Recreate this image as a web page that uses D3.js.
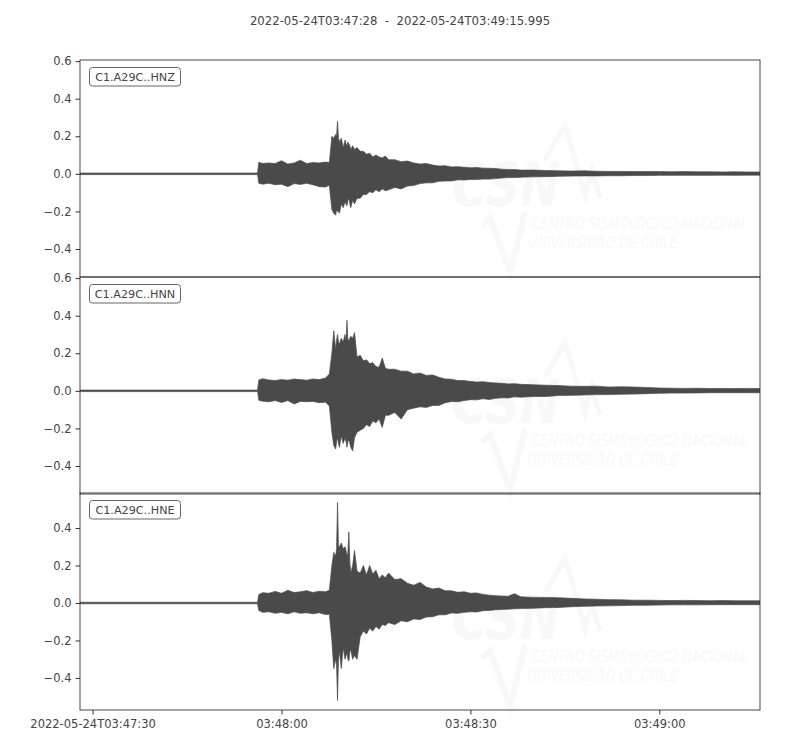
<!DOCTYPE html>
<html>
<head>
<meta charset="utf-8">
<script src="https://cdn.jsdelivr.net/npm/d3@7"></script>
<style>
  body { margin: 0; background: #fff; }
  svg { font-family: "DejaVu Sans", sans-serif; }
</style>
</head>
<body>
<svg id="chart"></svg>
<script>
// Tiempos de muestreo (s desde 03:47:28) y envolventes
const times = [0, 28.2, 28.4, 29, 30, 31, 32, 33, 34, 35, 36, 37, 38, 39, 39.6,
  40.0, 40.3, 40.6, 40.75, 40.9, 41.05, 41.2, 41.5, 41.8, 42.1, 42.25, 42.4, 42.55, 42.7, 42.85, 43.0, 43.3, 43.6,
  44.0, 44.5, 45.0, 45.5, 46.0, 46.5, 47.0, 47.5, 48.0, 48.5, 49.0,
  50, 51, 52, 53, 54, 55, 56, 57, 58, 59, 60, 61, 62, 63, 64, 65, 66, 67, 68, 69, 70,
  72, 74, 76, 78, 80, 82, 84, 86, 88, 90, 92, 94, 96, 98, 100, 102, 104, 106, 108];

const hnzHigh = [0.004, 0.004, 0.062, 0.055, 0.058, 0.055, 0.07, 0.052, 0.058, 0.072, 0.055, 0.06, 0.058, 0.063, 0.06,
  0.2, 0.19, 0.21, 0.2, 0.28, 0.19, 0.17, 0.19, 0.14, 0.18, 0.16, 0.15, 0.17, 0.16, 0.15, 0.13, 0.15, 0.13,
  0.14, 0.12, 0.12, 0.105, 0.11, 0.09, 0.1, 0.09, 0.085, 0.095, 0.075,
  0.075, 0.065, 0.068, 0.058, 0.052, 0.055, 0.047, 0.042, 0.043, 0.037, 0.038, 0.035, 0.032, 0.034, 0.03, 0.03, 0.028, 0.025, 0.023, 0.023, 0.02,
  0.02, 0.018, 0.016, 0.015, 0.016, 0.014, 0.013, 0.013, 0.012, 0.012, 0.012, 0.011, 0.012, 0.011, 0.011, 0.01, 0.011, 0.01, 0.01];
const hnzLow = [-0.004, -0.004, -0.05, -0.055, -0.05, -0.058, -0.055, -0.068, -0.052, -0.056, -0.05, -0.058, -0.068, -0.07, -0.06,
  -0.19, -0.21, -0.22, -0.19, -0.2, -0.2, -0.21, -0.16, -0.18, -0.15, -0.16, -0.17, -0.14, -0.13, -0.16, -0.18, -0.14, -0.16,
  -0.13, -0.13, -0.11, -0.11, -0.095, -0.1, -0.085, -0.095, -0.08, -0.09, -0.085,
  -0.072, -0.08, -0.065, -0.062, -0.052, -0.048, -0.048, -0.04, -0.038, -0.038, -0.032, -0.033, -0.03, -0.03, -0.028, -0.028, -0.025, -0.022, -0.02, -0.02, -0.018,
  -0.016, -0.015, -0.013, -0.012, -0.011, -0.011, -0.01, -0.01, -0.009, -0.009, -0.008, -0.008, -0.008, -0.008, -0.008, -0.007, -0.008, -0.007, -0.007];

const hnnHigh = [0.004, 0.004, 0.058, 0.065, 0.058, 0.055, 0.06, 0.057, 0.063, 0.06, 0.057, 0.063, 0.06, 0.068, 0.09,
  0.2, 0.32, 0.22, 0.27, 0.3, 0.26, 0.25, 0.28, 0.26, 0.3, 0.27, 0.375, 0.27, 0.27, 0.28, 0.29, 0.28, 0.31,
  0.18, 0.19, 0.16, 0.165, 0.145, 0.15, 0.13, 0.125, 0.175, 0.12, 0.115,
  0.115, 0.105, 0.105, 0.09, 0.095, 0.082, 0.085, 0.072, 0.063, 0.062, 0.055, 0.055, 0.05, 0.047, 0.048, 0.045, 0.042, 0.04, 0.037, 0.038, 0.035,
  0.032, 0.03, 0.028, 0.025, 0.024, 0.025, 0.02, 0.022, 0.02, 0.018, 0.015, 0.014, 0.013, 0.014, 0.012, 0.013, 0.012, 0.013, 0.012];
const hnnLow = [-0.004, -0.004, -0.05, -0.055, -0.058, -0.052, -0.062, -0.052, -0.07, -0.056, -0.058, -0.056, -0.063, -0.06, -0.08,
  -0.22, -0.29, -0.31, -0.27, -0.25, -0.28, -0.3, -0.24, -0.28, -0.25, -0.27, -0.3, -0.27, -0.26, -0.28, -0.3, -0.32, -0.25,
  -0.22, -0.21, -0.2, -0.18, -0.19, -0.16, -0.17, -0.15, -0.195, -0.13, -0.13,
  -0.115, -0.15, -0.1, -0.092, -0.085, -0.088, -0.078, -0.078, -0.063, -0.057, -0.058, -0.052, -0.047, -0.048, -0.042, -0.046, -0.04, -0.037, -0.038, -0.032, -0.034,
  -0.03, -0.03, -0.025, -0.024, -0.022, -0.02, -0.02, -0.018, -0.017, -0.015, -0.013, -0.012, -0.012, -0.011, -0.01, -0.01, -0.01, -0.01, -0.01];

const hneHigh = [0.004, 0.004, 0.045, 0.055, 0.052, 0.062, 0.052, 0.068, 0.056, 0.06, 0.066, 0.056, 0.063, 0.06, 0.068,
  0.2, 0.27, 0.25, 0.29, 0.537, 0.3, 0.3, 0.32, 0.29, 0.3, 0.28, 0.25, 0.27, 0.38, 0.22, 0.16, 0.2, 0.28,
  0.17, 0.16, 0.2, 0.15, 0.2, 0.155, 0.175, 0.13, 0.15, 0.135, 0.16,
  0.125, 0.13, 0.105, 0.095, 0.11, 0.085, 0.075, 0.08, 0.065, 0.065, 0.057, 0.06, 0.052, 0.054, 0.046, 0.042, 0.039, 0.037, 0.036, 0.05, 0.033,
  0.03, 0.03, 0.028, 0.025, 0.022, 0.02, 0.018, 0.017, 0.015, 0.015, 0.014, 0.013, 0.014, 0.013, 0.012, 0.013, 0.012, 0.012, 0.012];
const hneLow = [-0.004, -0.004, -0.04, -0.05, -0.047, -0.055, -0.05, -0.058, -0.047, -0.055, -0.052, -0.058, -0.052, -0.062, -0.06,
  -0.2, -0.35, -0.3, -0.33, -0.52, -0.3, -0.26, -0.35, -0.24, -0.3, -0.28, -0.27, -0.3, -0.31, -0.26, -0.25, -0.3, -0.28,
  -0.3, -0.18, -0.15, -0.165, -0.135, -0.15, -0.125, -0.14, -0.115, -0.12, -0.105,
  -0.115, -0.095, -0.1, -0.085, -0.088, -0.075, -0.073, -0.063, -0.063, -0.053, -0.055, -0.05, -0.047, -0.048, -0.041, -0.04, -0.036, -0.035, -0.033, -0.031, -0.03,
  -0.028, -0.025, -0.024, -0.02, -0.018, -0.016, -0.015, -0.014, -0.012, -0.012, -0.011, -0.01, -0.01, -0.01, -0.009, -0.009, -0.009, -0.009, -0.009];

// Canales
const channels = ['C1.A29C..HNZ', 'C1.A29C..HNN', 'C1.A29C..HNE'];
const yDomains = [[-0.549, 0.606], [-0.549, 0.606], [-0.571, 0.587]];
const yTicks = [[-0.4, -0.2, 0.0, 0.2, 0.4, 0.6], [-0.4, -0.2, 0.0, 0.2, 0.4, 0.6], [-0.4, -0.2, 0.0, 0.2, 0.4]];

// Eje de tiempo
const titleText = '2022-05-24T03:47:28  -  2022-05-24T03:49:15.995';
const timeDomain = [0, 107.995];
const xTickValues = [2, 32, 62, 92];
const xTickLabels = ['2022-05-24T03:47:30', '03:48:00', '03:48:30', '03:49:00'];

const highs = [hnzHigh, hnnHigh, hneHigh];
const lows = [hnzLow, hnnLow, hneLow];

// Dimensiones
const width = 800;
const height = 750;
const left = 80, right = 760;
const panelTops = [60, 277, 493];
const panelHeight = 217;
const textColor = '#444';
const waveColor = '#4a4a4a';
const fontSize = '11.5px';

const svg = d3.select('#chart')
  .attr('width', width)
  .attr('height', height);

const x = d3.scaleLinear().domain(timeDomain).range([left, right]);

// Titulo
svg.append('text')
  .attr('x', width / 2)
  .attr('y', 25)
  .attr('text-anchor', 'middle')
  .attr('fill', textColor)
  .style('font-size', '11.7px')
  .style('white-space', 'pre')
  .text(titleText);

const fmtY = d => d3.format('.1f')(d).replace('-', '\u2212');

channels.forEach((name, i) => {
  const top = panelTops[i];
  const y = d3.scaleLinear().domain(yDomains[i]).range([top + panelHeight, top]);
  const g = svg.append('g');

  // Marca de agua CSN
  const wm = g.append('g').attr('fill', '#000').attr('opacity', 0.025);
  wm.append('text')
    .attr('x', 452).attr('y', top + 146)
    .style('font-size', '60px').style('font-weight', 'bold').style('font-style', 'italic')
    .attr('textLength', 108).attr('lengthAdjust', 'spacingAndGlyphs')
    .text('CSN');
  wm.append('text')
    .attr('x', 532).attr('y', top + 169)
    .style('font-size', '15px').style('font-style', 'italic')
    .attr('textLength', 216).attr('lengthAdjust', 'spacingAndGlyphs')
    .text('CENTRO SISMOLÓGICO NACIONAL');
  wm.append('text')
    .attr('x', 528).attr('y', top + 188)
    .style('font-size', '15px').style('font-style', 'italic')
    .attr('textLength', 150).attr('lengthAdjust', 'spacingAndGlyphs')
    .text('UNIVERSIDAD DE CHILE');
  wm.append('polyline')
    .attr('points', [[545, top + 100], [565, top + 65], [585, top + 135], [592, top + 110], [600, top + 138]].map(p => p.join(',')).join(' '))
    .attr('fill', 'none').attr('stroke', '#000').attr('stroke-width', 5);
  wm.append('polyline')
    .attr('points', [[482, top + 165], [490, top + 158], [510, top + 213], [525, top + 152]].map(p => p.join(',')).join(' '))
    .attr('fill', 'none').attr('stroke', '#000').attr('stroke-width', 6);

  // Clip del panel
  svg.append('clipPath').attr('id', 'clip' + i)
    .append('rect').attr('x', left).attr('y', top).attr('width', right - left).attr('height', panelHeight);

  // Traza (envolvente)
  const pts = times.map((t, k) => ({ t: t, hi: highs[i][k], lo: lows[i][k] }));
  const area = d3.area()
    .x(d => x(d.t))
    .y0(d => y(d.lo))
    .y1(d => y(d.hi));
  g.append('path')
    .datum(pts)
    .attr('clip-path', 'url(#clip' + i + ')')
    .attr('d', area)
    .attr('fill', waveColor)
    .attr('stroke', waveColor)
    .attr('stroke-width', 0.7);

  // Borde
  g.append('rect')
    .attr('x', left).attr('y', top)
    .attr('width', right - left).attr('height', panelHeight)
    .attr('fill', 'none').attr('stroke', '#333').attr('stroke-width', 0.9);

  // Eje Y
  const yAxis = g.append('g')
    .attr('transform', `translate(${left},0)`)
    .call(d3.axisLeft(y).tickValues(yTicks[i]).tickSize(4.5).tickPadding(4).tickFormat(fmtY));
  yAxis.select('.domain').remove();
  yAxis.selectAll('line').attr('stroke', '#333');
  yAxis.selectAll('text').attr('fill', textColor).style('font-size', fontSize)
    .style('font-family', '"DejaVu Sans", sans-serif');

  // Etiqueta del canal
  const lab = g.append('g').attr('transform', `translate(${left + 9.5},${top + 7.5})`);
  lab.append('rect')
    .attr('width', 91).attr('height', 18.5).attr('rx', 3)
    .attr('fill', '#fff').attr('stroke', '#666').attr('stroke-width', 1);
  lab.append('text')
    .attr('x', 45.5).attr('y', 13.4)
    .attr('text-anchor', 'middle')
    .attr('fill', textColor)
    .style('font-size', '11.2px')
    .text(name);
});

// Eje X (solo en el ultimo panel)
const xAxis = svg.append('g')
  .attr('transform', `translate(0,${panelTops[2] + panelHeight})`)
  .call(d3.axisBottom(x).tickValues(xTickValues).tickSize(4.5).tickPadding(5)
    .tickFormat((d, k) => xTickLabels[k]));
xAxis.select('.domain').remove();
xAxis.selectAll('line').attr('stroke', '#333');
xAxis.selectAll('text').attr('fill', textColor).style('font-size', fontSize)
  .style('font-family', '"DejaVu Sans", sans-serif');
</script>
</body>
</html>
